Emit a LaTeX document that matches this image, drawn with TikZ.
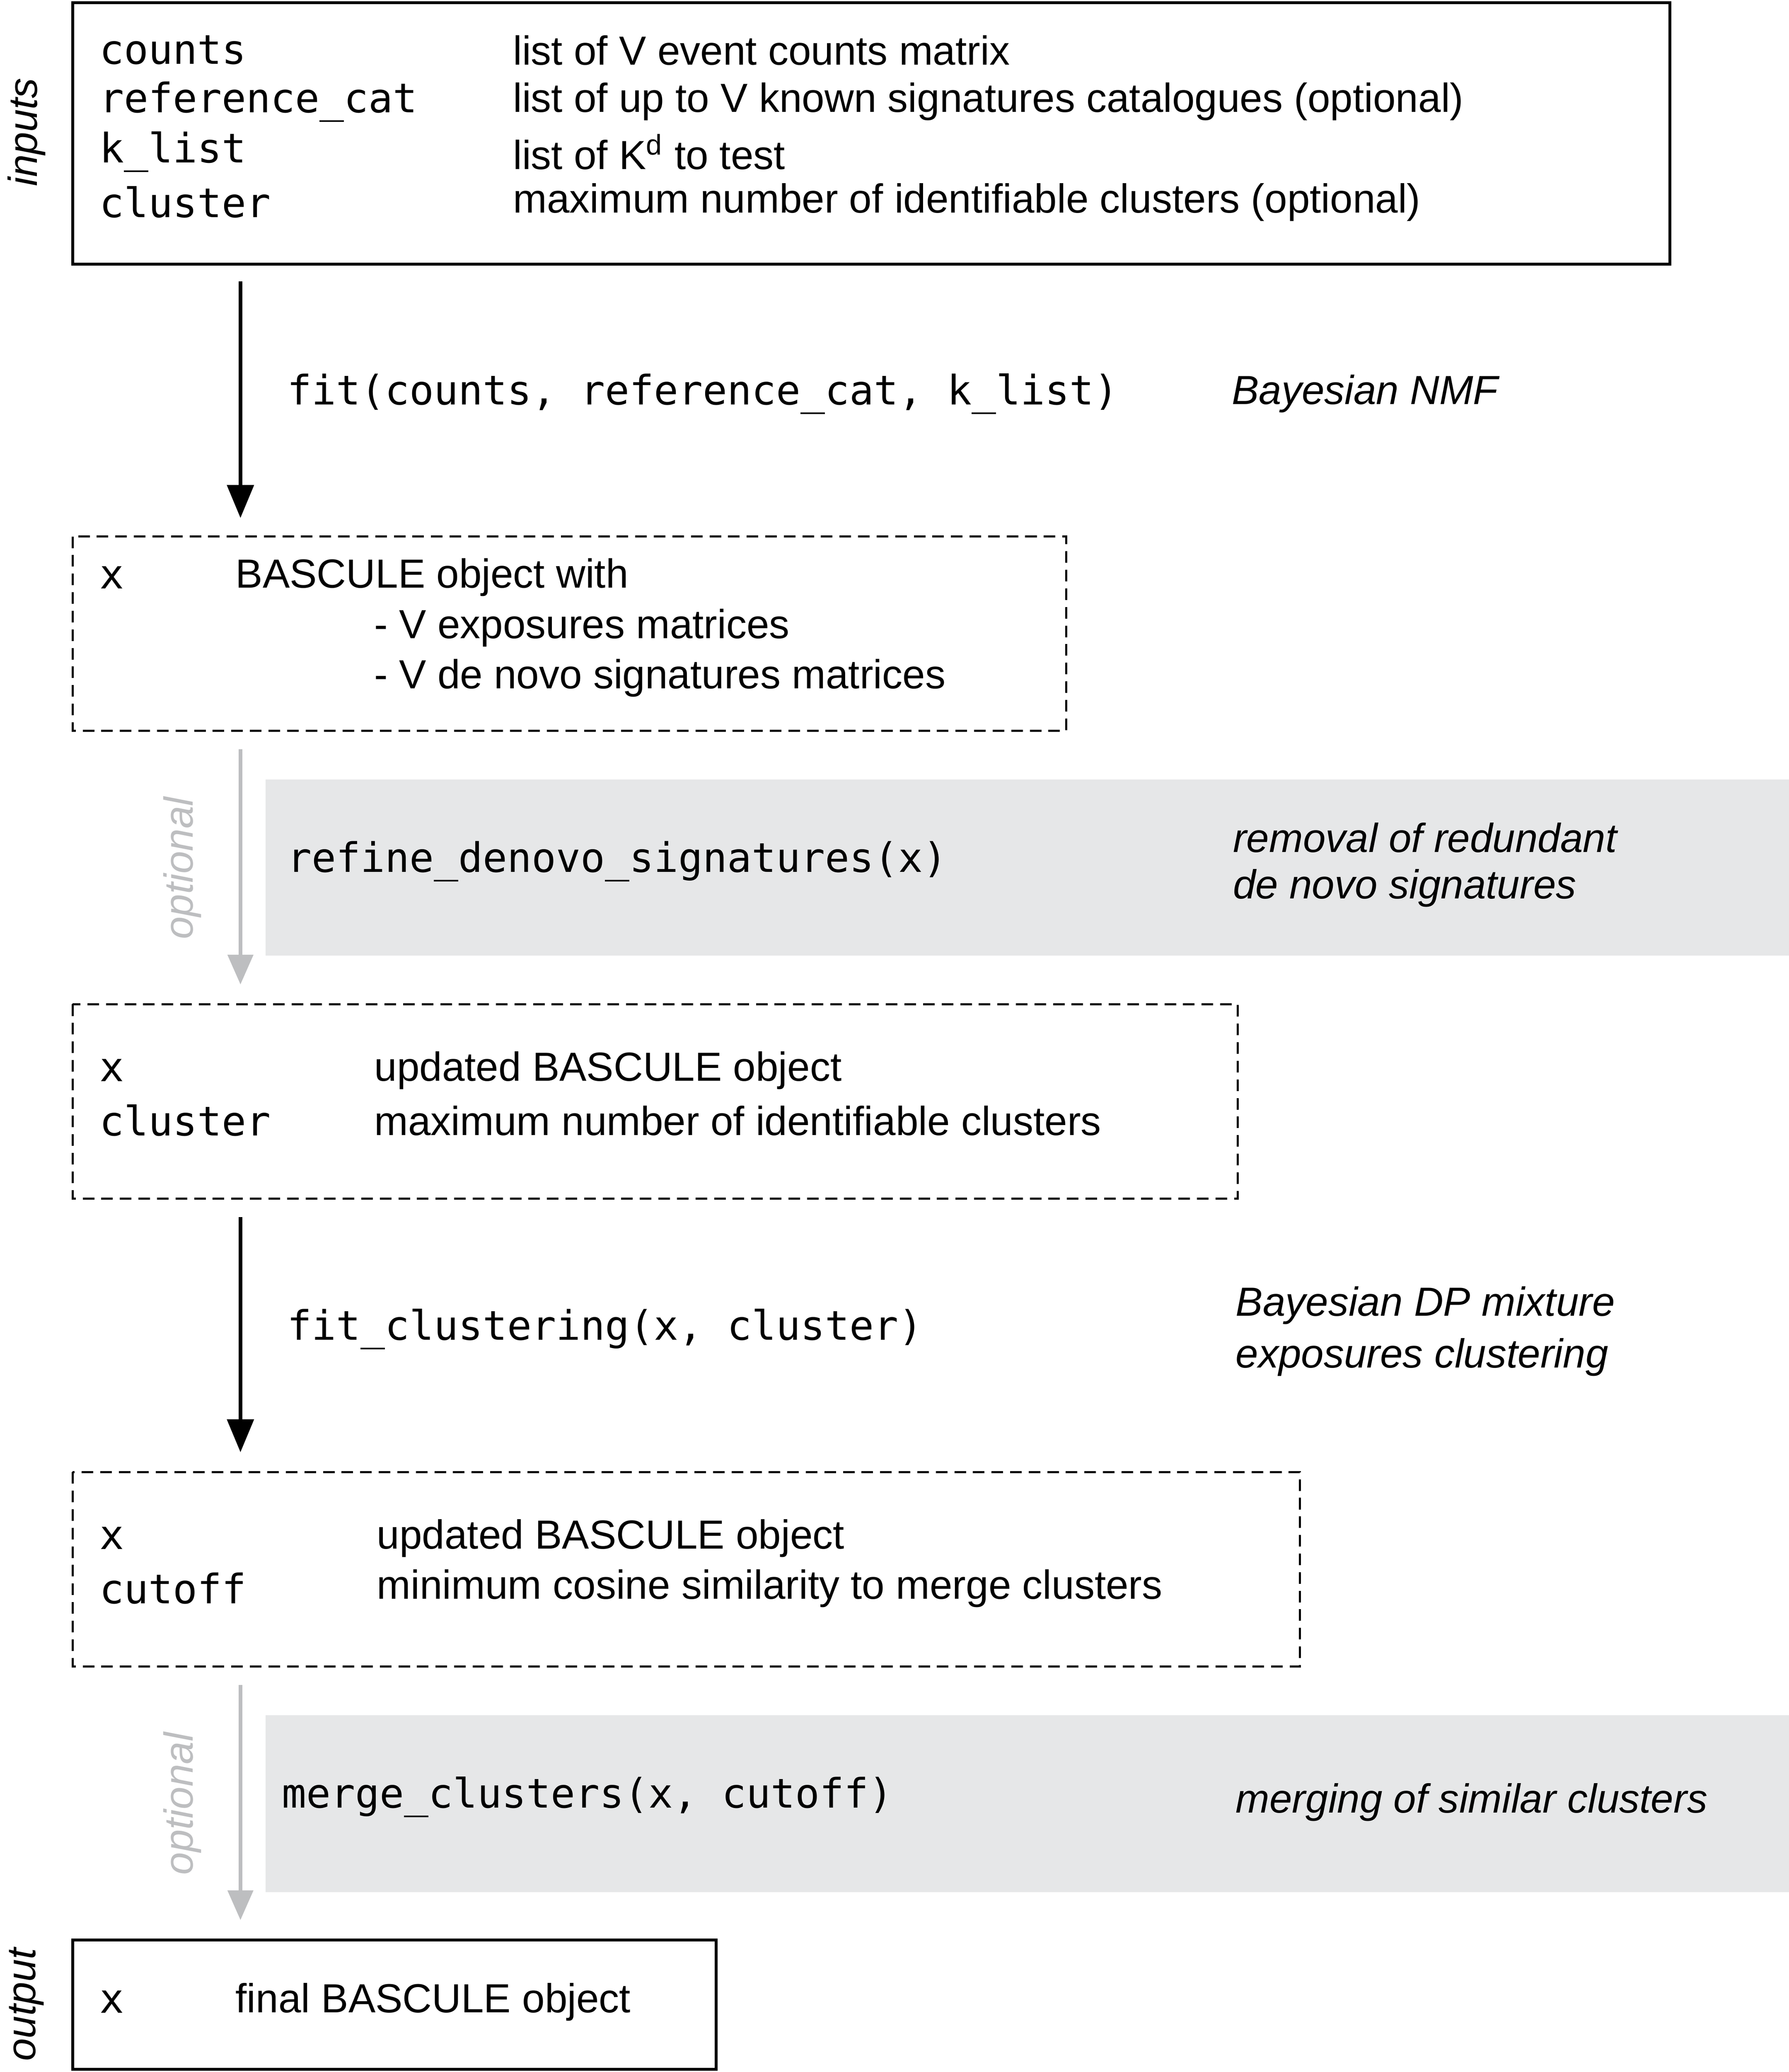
\documentclass[tikz,border=0pt]{standalone}
\usepackage{fontspec}
\setmainfont{Liberation Sans}
\newfontfamily\codefont{DejaVu Sans Mono}
\usetikzlibrary{arrows.meta}
\definecolor{bandgray}{HTML}{E6E7E8}
\definecolor{optgray}{HTML}{BDBEC0}
\begin{document}
\begin{tikzpicture}[x=0.02cm,y=-0.02cm,
  txt/.style={anchor=west,inner sep=0pt,font=\fontsize{17.5}{21}\selectfont},
  code/.style={anchor=west,inner sep=0pt,font=\fontsize{17.5}{21}\selectfont\codefont},
  ital/.style={anchor=west,inner sep=0pt,font=\fontsize{17.5}{21}\selectfont\itshape},
  side/.style={rotate=90,inner sep=0pt,font=\fontsize{17.5}{21}\selectfont\itshape},
  solidbox/.style={draw=black,line width=1.2pt},
  dashbox/.style={draw=black,line width=0.9pt,dash pattern=on 5pt off 3pt},
  band/.style={fill=bandgray,draw=none},
  blackarrow/.style={line width=1.6pt,-{Triangle[length=0.5cm,width=0.4cm]}},
  grayarrow/.style={line width=1.6pt,draw=optgray,-{Triangle[length=0.45cm,width=0.38cm]},optgray}
]
\useasboundingbox (0,0) rectangle (1354,1568);
% bands
\path[band] (201,590) rectangle (1354,723);
\path[band] (201,1298) rectangle (1354,1432);
% boxes
\draw[solidbox] (55,2) rectangle (1264,200);
\draw[dashbox] (55,406) rectangle (807,553);
\draw[dashbox] (55,760) rectangle (937,907);
\draw[dashbox] (55,1114) rectangle (984,1261);
\draw[solidbox] (55,1468) rectangle (542,1566);
% side labels
\node[side] (lin) at (20,100) {inputs};
\node[side] (lout) at (20,1517) {output};
\node[side,text=optgray] (opt1) at (138,657) {optional};
\node[side,text=optgray] (opt2) at (138,1365) {optional};
% box 1
\node[code] (c1) at (75,38) {counts};
\node[code] (c2) at (75,77) {reference\_cat};
\node[code] (c3) at (75,115) {k\_list};
\node[code] (c4) at (75,153) {cluster};
\node[txt] (d1) at (388,38) {list of V event counts matrix};
\node[txt] (d2) at (388,77) {list of up to V known signatures catalogues (optional)};
\node[txt] (d3) at (388,115) {list of K\textsuperscript{d} to test};
\node[txt] (d4) at (388,153) {maximum number of identifiable clusters (optional)};
% step 1
\coordinate (a1s) at (182,213); \coordinate (a1e) at (182,392);
\draw[blackarrow] (a1s) -- (a1e);
\node[code] (f1) at (217,298) {fit(counts, reference\_cat, k\_list)};
\node[ital] (n1) at (932,298) {Bayesian NMF};
% box 2
\node[code] (x2) at (75,437) {x};
\node[txt] (b2a) at (178,437) {BASCULE object with};
\node[txt] (b2b) at (283,475) {- V exposures matrices};
\node[txt] (b2c) at (283,513) {- V de novo signatures matrices};
% step 2
\coordinate (a2s) at (182,567); \coordinate (a2e) at (182,745);
\draw[grayarrow] (a2s) -- (a2e);
\node[code] (f2) at (217,652) {refine\_denovo\_signatures(x)};
\node[ital] (n2a) at (933,634) {removal of redundant};
\node[ital] (n2b) at (933,672) {de novo signatures};
% box 3
\node[code] (x3) at (75,810) {x};
\node[code] (c3b) at (75,848) {cluster};
\node[txt] (b3a) at (283,810) {updated BASCULE object};
\node[txt] (b3b) at (283,848) {maximum number of identifiable clusters};
% step 3
\coordinate (a3s) at (182,921); \coordinate (a3e) at (182,1099);
\draw[blackarrow] (a3s) -- (a3e);
\node[code] (f3) at (217,1006) {fit\_clustering(x, cluster)};
\node[ital] (n3a) at (935,988) {Bayesian DP mixture};
\node[ital] (n3b) at (935,1027) {exposures clustering};
% box 4
\node[code] (x4) at (75,1164) {x};
\node[code] (c4b) at (75,1202) {cutoff};
\node[txt] (b4a) at (285,1164) {updated BASCULE object};
\node[txt] (b4b) at (285,1202) {minimum cosine similarity to merge clusters};
% step 4
\coordinate (a4s) at (182,1275); \coordinate (a4e) at (182,1453);
\draw[grayarrow] (a4s) -- (a4e);
\node[code] (f4) at (213,1360) {merge\_clusters(x, cutoff)};
\node[ital] (n4) at (935,1364) {merging of similar clusters};
% box 5
\node[code] (x5) at (75,1515) {x};
\node[txt] (b5) at (178,1515) {final BASCULE object};
\end{tikzpicture}
\end{document}
